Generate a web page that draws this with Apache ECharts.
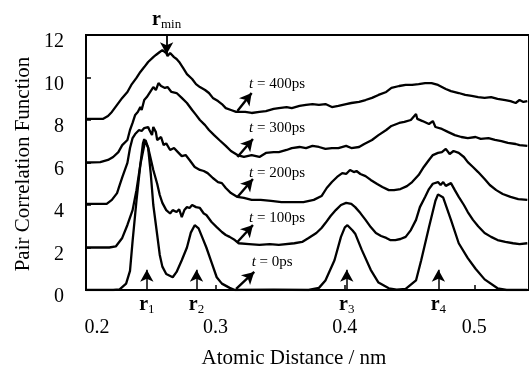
<!DOCTYPE html>
<html>
<head>
<meta charset="utf-8">
<script src="https://cdn.jsdelivr.net/npm/echarts@6/dist/echarts.min.js"></script>
<style>
  html, body { margin: 0; padding: 0; background: #fff; }
  #chart { width: 529px; height: 369px; }
</style>
</head>
<body>
<div id="chart"></div>
<script>
// Pair correlation function g(r) at successive annealing times.
// Each curve is shifted upward by its offset so the peaks stay readable.
const times = ['0ps', '100ps', '200ps', '300ps', '400ps'];
const offsets = [0, 2, 4, 6, 8];

// [r (nm), g(r)]
const g0ps = [[0.200,0],[0.221,0],[0.226,0.03],[0.231,0.3],[0.234,0.9],[0.236,2.3],[0.239,4.2],[0.242,5.9],[0.244,6.9],[0.245,7.1],[0.248,6.7],[0.250,5.5],[0.252,4.0],[0.255,2.6],[0.257,1.65],[0.259,1.1],[0.262,0.75],[0.267,0.6],[0.270,0.85],[0.274,1.4],[0.278,2.0],[0.281,2.7],[0.284,3.05],[0.287,2.9],[0.290,2.45],[0.293,2.0],[0.297,1.3],[0.301,0.6],[0.305,0.3],[0.311,0.1],[0.315,0],[0.345,0.02],[0.372,0],[0.376,0.05],[0.380,0.1],[0.385,0.45],[0.392,1.4],[0.397,2.5],[0.400,2.95],[0.402,3.05],[0.406,2.8],[0.408,2.65],[0.413,1.9],[0.420,0.95],[0.426,0.35],[0.434,0.08],[0.440,0.02],[0.447,0.05],[0.455,0.45],[0.459,1.4],[0.465,2.95],[0.470,4.2],[0.472,4.5],[0.476,4.35],[0.482,3.3],[0.488,2.2],[0.495,1.5],[0.501,1.0],[0.508,0.5],[0.518,0.08],[0.525,0],[0.541,0]];

const g100ps = [[0.200,0],[0.218,0],[0.223,0.05],[0.228,0.45],[0.232,1.06],[0.236,1.76],[0.239,2.7],[0.242,3.9],[0.245,4.8],[0.246,5.05],[0.248,4.7],[0.252,3.65],[0.255,3.0],[0.257,2.47],[0.259,2.1],[0.262,1.76],[0.265,1.6],[0.267,1.76],[0.270,1.67],[0.272,1.8],[0.274,1.43],[0.276,1.76],[0.278,1.9],[0.280,1.86],[0.282,2.0],[0.285,1.9],[0.288,1.86],[0.291,1.6],[0.293,1.53],[0.297,1.2],[0.301,0.96],[0.305,0.73],[0.308,0.59],[0.311,0.5],[0.315,0.35],[0.318,0.2],[0.326,0.16],[0.334,0.12],[0.342,0.16],[0.349,0.12],[0.361,0.2],[0.367,0.26],[0.372,0.45],[0.378,0.68],[0.382,0.92],[0.385,1.15],[0.389,1.48],[0.393,1.76],[0.397,2.0],[0.401,2.1],[0.405,2.05],[0.408,1.9],[0.412,1.62],[0.416,1.3],[0.420,0.96],[0.424,0.68],[0.428,0.54],[0.432,0.45],[0.435,0.35],[0.439,0.35],[0.443,0.4],[0.447,0.5],[0.451,0.82],[0.455,1.3],[0.458,1.9],[0.462,2.38],[0.465,2.75],[0.468,3.0],[0.472,3.08],[0.474,2.94],[0.476,3.08],[0.478,2.9],[0.482,3.03],[0.485,2.7],[0.488,2.38],[0.492,2.0],[0.495,1.67],[0.499,1.3],[0.503,1.0],[0.508,0.68],[0.513,0.5],[0.518,0.35],[0.524,0.26],[0.530,0.2],[0.535,0.16],[0.541,0.2]];

const g200ps = [[0.200,0.05],[0.216,0.05],[0.220,0.24],[0.224,0.56],[0.226,0.94],[0.228,1.3],[0.232,1.98],[0.234,2.68],[0.236,3.15],[0.238,3.34],[0.241,3.53],[0.243,3.48],[0.245,3.62],[0.248,3.67],[0.249,3.53],[0.251,3.29],[0.252,3.67],[0.254,3.43],[0.255,3.06],[0.258,3.2],[0.260,2.82],[0.262,2.9],[0.265,2.59],[0.268,2.68],[0.271,2.49],[0.274,2.3],[0.277,2.35],[0.280,2.12],[0.284,1.79],[0.288,1.65],[0.291,1.6],[0.294,1.5],[0.298,1.27],[0.302,1.08],[0.305,1.03],[0.308,0.8],[0.312,0.56],[0.317,0.38],[0.322,0.33],[0.328,0.24],[0.335,0.24],[0.343,0.19],[0.351,0.14],[0.358,0.14],[0.368,0.14],[0.376,0.24],[0.382,0.42],[0.386,0.8],[0.390,1.08],[0.394,1.32],[0.398,1.5],[0.401,1.46],[0.404,1.65],[0.407,1.55],[0.409,1.6],[0.412,1.46],[0.416,1.36],[0.420,1.18],[0.425,0.99],[0.429,0.85],[0.434,0.7],[0.438,0.7],[0.443,0.75],[0.448,0.89],[0.452,1.08],[0.457,1.41],[0.461,1.79],[0.465,2.12],[0.468,2.35],[0.472,2.45],[0.475,2.49],[0.478,2.64],[0.481,2.4],[0.484,2.54],[0.488,2.45],[0.492,2.26],[0.495,2.02],[0.499,1.79],[0.503,1.55],[0.508,1.22],[0.512,0.94],[0.517,0.7],[0.522,0.52],[0.528,0.38],[0.534,0.28],[0.541,0.24]];

const g300ps = [[0.200,0],[0.211,0.02],[0.217,0.12],[0.221,0.26],[0.225,0.49],[0.228,0.82],[0.232,1.06],[0.234,1.53],[0.236,1.86],[0.238,2.24],[0.240,2.38],[0.242,2.61],[0.243,2.47],[0.245,2.94],[0.247,3.08],[0.249,3.27],[0.252,3.55],[0.254,3.41],[0.256,3.74],[0.258,3.6],[0.261,3.51],[0.263,3.55],[0.266,3.32],[0.270,3.27],[0.274,3.04],[0.278,2.8],[0.282,2.47],[0.285,2.24],[0.288,2.0],[0.292,1.76],[0.295,1.53],[0.299,1.29],[0.303,1.06],[0.308,0.78],[0.312,0.54],[0.317,0.35],[0.322,0.26],[0.328,0.35],[0.334,0.26],[0.339,0.45],[0.345,0.49],[0.349,0.49],[0.355,0.59],[0.359,0.68],[0.365,0.73],[0.370,0.68],[0.375,0.78],[0.380,0.73],[0.385,0.64],[0.390,0.68],[0.395,0.68],[0.401,0.78],[0.405,0.68],[0.411,0.73],[0.415,0.87],[0.421,1.06],[0.426,1.29],[0.432,1.53],[0.436,1.72],[0.442,1.86],[0.446,1.91],[0.451,2.0],[0.453,2.14],[0.455,2.28],[0.456,2.05],[0.460,1.95],[0.465,1.81],[0.468,1.95],[0.470,1.67],[0.475,1.58],[0.480,1.43],[0.485,1.29],[0.490,1.2],[0.495,1.15],[0.501,1.2],[0.505,1.11],[0.511,1.15],[0.516,1.06],[0.521,1.01],[0.526,0.92],[0.532,0.87],[0.535,0.82],[0.541,0.78]];

const g400ps = [[0.200,0.05],[0.213,0.05],[0.217,0.19],[0.220,0.38],[0.224,0.71],[0.228,1.04],[0.232,1.32],[0.235,1.65],[0.239,1.98],[0.242,2.26],[0.245,2.49],[0.248,2.73],[0.252,2.96],[0.254,3.06],[0.257,3.2],[0.259,3.29],[0.262,3.15],[0.263,3.01],[0.265,3.15],[0.268,2.96],[0.270,2.87],[0.272,2.73],[0.275,2.45],[0.278,2.16],[0.282,1.93],[0.285,1.69],[0.288,1.55],[0.292,1.41],[0.295,1.27],[0.298,1.04],[0.302,0.89],[0.305,0.75],[0.308,0.56],[0.312,0.47],[0.316,0.38],[0.323,0.38],[0.328,0.33],[0.334,0.38],[0.339,0.42],[0.345,0.52],[0.349,0.56],[0.355,0.61],[0.359,0.56],[0.365,0.66],[0.370,0.71],[0.375,0.75],[0.380,0.71],[0.385,0.75],[0.390,0.61],[0.395,0.66],[0.401,0.75],[0.405,0.8],[0.411,0.85],[0.416,0.94],[0.421,1.04],[0.426,1.18],[0.432,1.32],[0.436,1.51],[0.442,1.6],[0.447,1.65],[0.452,1.65],[0.457,1.69],[0.462,1.74],[0.467,1.74],[0.472,1.65],[0.478,1.46],[0.482,1.36],[0.488,1.27],[0.493,1.18],[0.498,1.13],[0.503,1.08],[0.508,1.04],[0.513,1.08],[0.518,0.99],[0.524,0.94],[0.528,0.89],[0.532,0.8],[0.535,0.94],[0.538,0.85],[0.541,0.89]];

const curves = [g0ps, g100ps, g200ps, g300ps, g400ps];

// Neighbour shell distances marked under the axis, and the r_min marker.
const shellNames = ['1', '2', '3', '4'];
const shellDistances = [0.247, 0.2854, 0.4015, 0.4723];
const rMin = 0.2623;

// Time-label anchors (arrow tail, arrow head, text start) in data units.
const arrowTail = [[0.316,0.05],[0.317,2.26],[0.317,4.38],[0.317,6.26],[0.317,8.42]];
const arrowHead = [[0.330,0.85],[0.329,3.06],[0.329,5.22],[0.329,7.11],[0.328,9.27]];
const labelAt = [[0.328,1.32],[0.326,3.39],[0.326,5.51],[0.326,7.62],[0.326,9.69]];

const xTickLabels = ['0.2', '0.3', '0.4', '0.5'];
const yTickLabels = ['0', '2', '4', '6', '8', '10', '12'];

const SERIF = '"Liberation Serif", "Times New Roman", serif';
const chart = echarts.init(document.getElementById('chart'), null, { renderer: 'canvas' });

const richR = {
  r: { fontFamily: SERIF, fontSize: 20, fontWeight: 'bold', color: '#000' },
  s: { fontFamily: SERIF, fontSize: 13, color: '#000', padding: [9, 0, 0, 0] }
};

const series = curves.map((g, i) => {
  const s = {
    type: 'line',
    name: times[i],
    data: g.map(p => [p[0], p[1] + offsets[i]]),
    showSymbol: false,
    symbol: 'none',
    smooth: false,
    lineStyle: { color: '#000', width: 2.3 },
    markLine: {
      silent: true,
      symbol: ['none', 'arrow'],
      symbolSize: [10, 12],
      lineStyle: { color: '#000', width: 2.4, type: 'solid' },
      label: { show: false },
      data: [[{ coord: arrowTail[i] }, { coord: arrowHead[i] }]]
    },
    markPoint: {
      silent: true,
      symbol: 'circle',
      symbolSize: 0,
      data: [{
        coord: labelAt[i],
        label: {
          show: true,
          position: 'right',
          distance: 0,
          formatter: '{i|t} = ' + times[i],
          fontFamily: SERIF,
          fontSize: 15,
          color: '#000',
          rich: {
            i: { fontFamily: SERIF, fontSize: 15, fontStyle: 'italic', color: '#000' }
          }
        }
      }]
    }
  };
  if (i === 0) {
    s.markLine.data = s.markLine.data.concat(
      shellDistances.map(r => [
        { coord: [r, 0], lineStyle: { width: 1.5 }, symbolSize: [7, 9] },
        { coord: [r, 0.95] }
      ])
    );
    s.markPoint.data = s.markPoint.data.concat(
      shellDistances.map((r, k) => ({
        coord: [r, 0],
        label: {
          show: true,
          position: 'bottom',
          distance: 4,
          formatter: '{r|r}{s|' + shellNames[k] + '}',
          rich: richR
        }
      }))
    );
  }
  if (i === 4) {
    s.markLine.data.push([
      { coord: [rMin, 12], lineStyle: { width: 1.8 }, symbolSize: [8, 10] },
      { coord: [rMin, 11.1] }
    ]);
    s.markPoint.data.push({
      coord: [rMin, 12],
      label: {
        show: true,
        position: 'top',
        distance: 4,
        formatter: '{r|r}{s|min}',
        rich: richR
      }
    });
  }
  return s;
});

chart.setOption({
  animation: false,
  backgroundColor: '#fff',
  grid: {
    left: 86, right: -2, top: 35, bottom: 79,
    show: true, borderColor: '#000', borderWidth: 2, backgroundColor: 'transparent'
  },
  xAxis: {
    type: 'value',
    min: 0.2, max: 0.5423, interval: 0.1,
    axisLine: { show: true, lineStyle: { color: '#000', width: 2 } },
    axisTick: { show: true, inside: true, length: 5, lineStyle: { color: '#000', width: 1.5 } },
    splitLine: { show: false },
    axisLabel: {
      showMaxLabel: false,
      margin: 28,
      fontFamily: SERIF, fontSize: 20, color: '#000',
      formatter: v => {
        const t = xTickLabels.find(l => Math.abs(parseFloat(l) - v) < 1e-9);
        if (!t) return '';
        return t === '0.2' ? '{a|' + t + '}' : t;
      },
      rich: { a: { fontFamily: SERIF, fontSize: 20, color: '#000', padding: [0, 0, 0, 22] } }
    }
  },
  yAxis: {
    type: 'value',
    min: 0, max: 12, interval: 2,
    axisLine: { show: true, lineStyle: { color: '#000', width: 2 } },
    axisTick: { show: true, inside: true, length: 5, lineStyle: { color: '#000', width: 1.5 } },
    splitLine: { show: false },
    axisLabel: {
      margin: 22,
      fontFamily: SERIF, fontSize: 20, color: '#000',
      formatter: v => {
        const t = yTickLabels.find(l => Number(l) === v);
        return t ? '{a|' + t + '}' : '';
      },
      rich: { a: { fontFamily: SERIF, fontSize: 20, color: '#000', padding: [14, 0, 0, 0] } }
    }
  },
  graphic: [
    {
      type: 'text', x: 23, y: 164, rotation: Math.PI / 2,
      style: { text: 'Pair Correlation Function', fontFamily: SERIF, fontSize: 21, fill: '#000', align: 'center', verticalAlign: 'middle' }
    },
    {
      type: 'text', x: 294, y: 358,
      style: { text: 'Atomic Distance / nm', fontFamily: SERIF, fontSize: 21, fill: '#000', align: 'center', verticalAlign: 'middle' }
    }
  ],
  series: series
});
</script>
</body>
</html>
